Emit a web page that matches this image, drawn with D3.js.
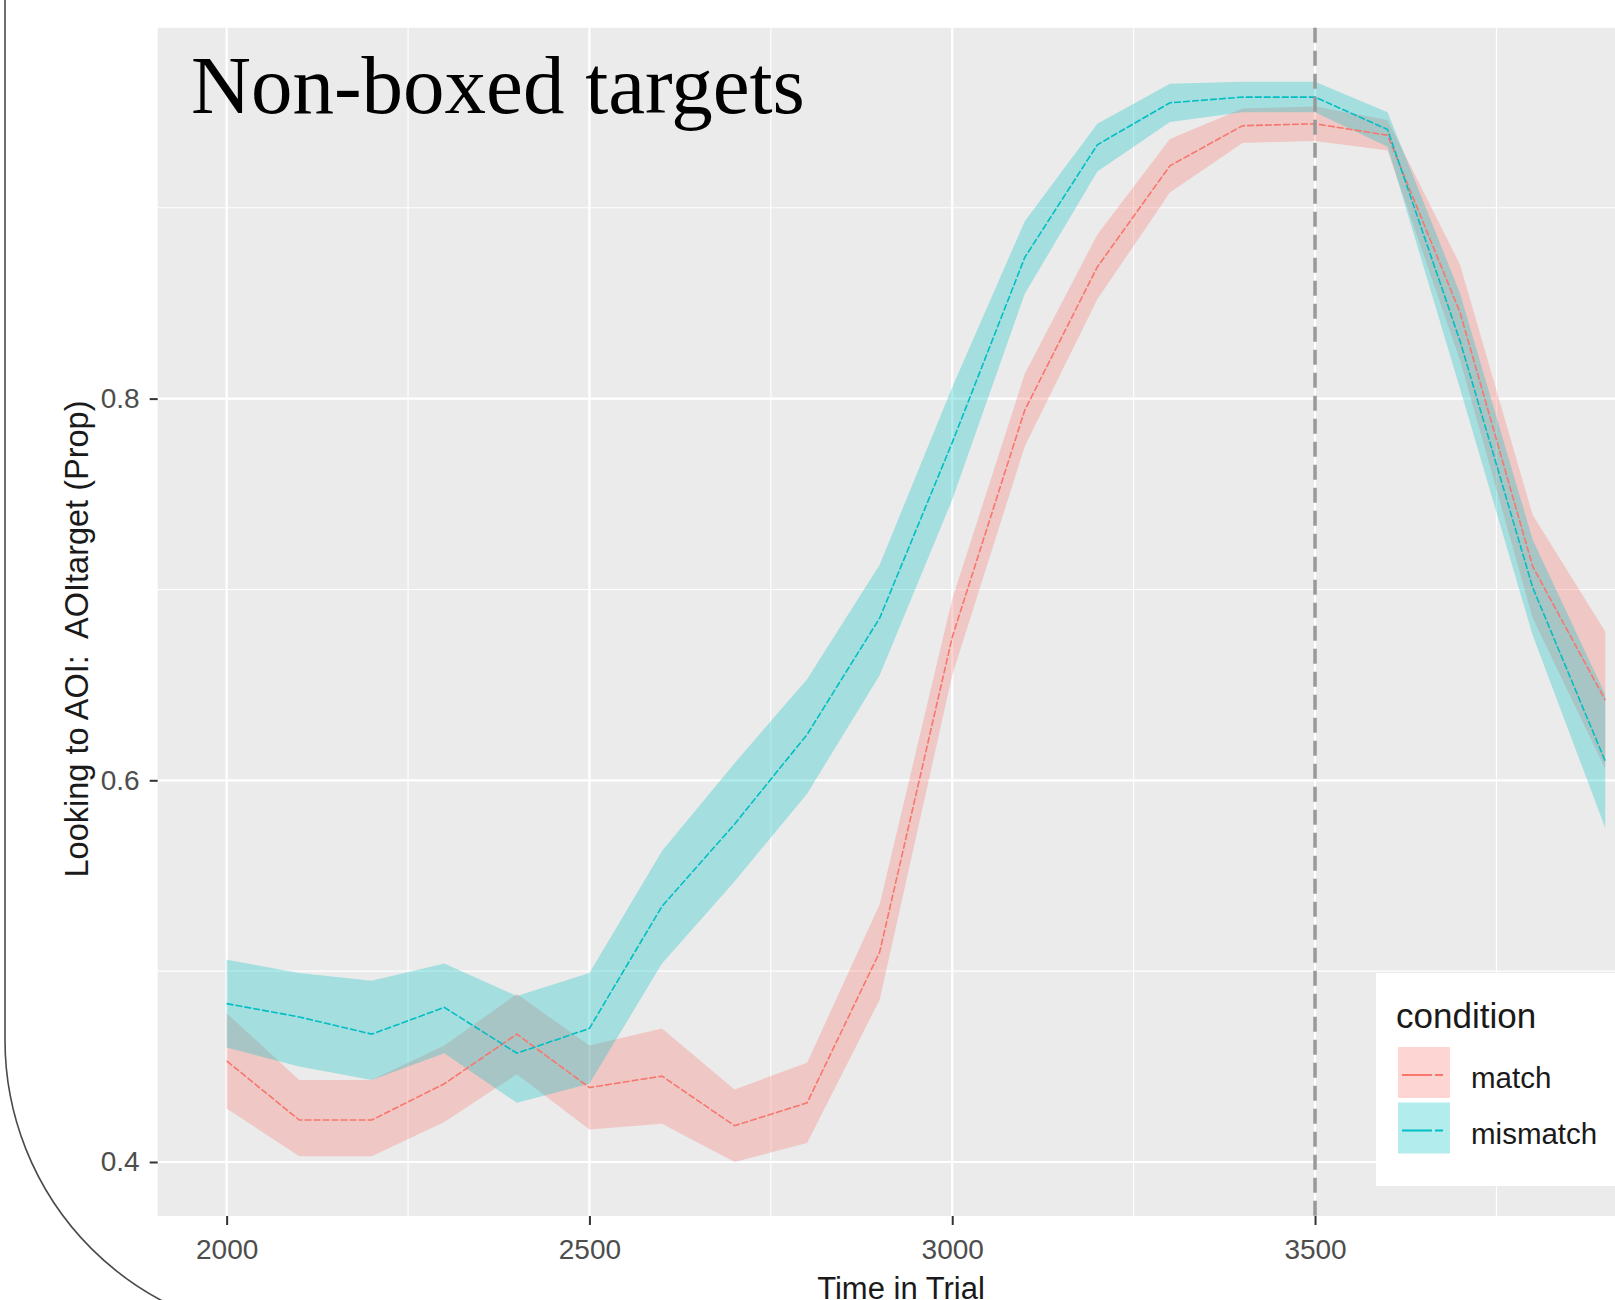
<!DOCTYPE html>
<html>
<head>
<meta charset="utf-8">
<script src="https://cdn.jsdelivr.net/npm/d3@7"></script>
<style>
  body { margin: 0; background: #ffffff; }
  svg { display: block; }
</style>
</head>
<body>
<script>
// values, one per 100 ms
var times = [2000, 2100, 2200, 2300, 2400, 2500, 2600, 2700, 2800, 2900,
             3000, 3100, 3200, 3300, 3400, 3500, 3600, 3700, 3800, 3900];

var matchMean  = [0.453, 0.422, 0.422, 0.441, 0.467, 0.439, 0.445, 0.419, 0.431, 0.510,
                  0.675, 0.794, 0.869, 0.922, 0.943, 0.944, 0.938, 0.845, 0.712, 0.642];
var matchLower = [0.428, 0.403, 0.403, 0.421, 0.446, 0.417, 0.420, 0.400, 0.410, 0.485,
                  0.655, 0.775, 0.852, 0.908, 0.934, 0.935, 0.930, 0.820, 0.685, 0.606];
var matchUpper = [0.478, 0.443, 0.443, 0.461, 0.488, 0.461, 0.470, 0.438, 0.452, 0.535,
                  0.695, 0.813, 0.886, 0.936, 0.952, 0.953, 0.946, 0.870, 0.739, 0.678];

var mismatchMean  = [0.483, 0.476, 0.467, 0.481, 0.457, 0.470, 0.534, 0.577, 0.624, 0.685,
                     0.777, 0.874, 0.933, 0.955, 0.958, 0.958, 0.941, 0.830, 0.701, 0.610];
var mismatchLower = [0.460, 0.450, 0.443, 0.457, 0.431, 0.441, 0.504, 0.547, 0.593, 0.655,
                     0.747, 0.855, 0.919, 0.945, 0.950, 0.950, 0.932, 0.805, 0.676, 0.575];
var mismatchUpper = [0.506, 0.499, 0.495, 0.504, 0.487, 0.499, 0.563, 0.609, 0.653, 0.713,
                     0.806, 0.893, 0.944, 0.965, 0.966, 0.966, 0.950, 0.855, 0.726, 0.645];

var conditions = ["match", "mismatch"];
var xTicks = [2000, 2500, 3000, 3500];
var xMinor = [2250, 2750, 3250, 3750];
var yTicks = [0.4, 0.6, 0.8];
var yMinor = [0.5, 0.7, 0.9];
var markerTime = 3500;

const width = 1615;
const height = 1300;
const panelLeft = 157.7;
const panelTop = 27.8;
const panelBottom = 1216;

const colours = { match: "#F8766D", mismatch: "#00BFC4" };

function seriesRows(mean, lower, upper) {
    return times.map((t, i) => ({ t: t, mean: mean[i], lo: lower[i], hi: upper[i] }));
}

var series = [
    { name: "match", rows: seriesRows(matchMean, matchLower, matchUpper) },
    { name: "mismatch", rows: seriesRows(mismatchMean, mismatchLower, mismatchUpper) }
];

// ggplot style 5% expansion of the data range
var tSpan = d3.max(times) - d3.min(times);
var allLo = d3.min(matchLower.concat(mismatchLower));
var allHi = d3.max(matchUpper.concat(mismatchUpper));
var vSpan = allHi - allLo;

const xScale = d3.scaleLinear()
    .domain([d3.min(times) - 0.05 * tSpan, d3.max(times) + 0.05 * tSpan])
    .range([panelLeft, panelLeft + 1516.5]);

const yScale = d3.scaleLinear()
    .domain([allLo - 0.05 * vSpan, allHi + 0.05 * vSpan])
    .range([panelBottom, panelTop]);

let svg = d3.select("body")
    .append("svg")
    .attr("width", width)
    .attr("height", height);

// panel
svg.append("rect")
    .attr("x", panelLeft)
    .attr("y", panelTop)
    .attr("width", xScale.range()[1] - panelLeft)
    .attr("height", panelBottom - panelTop)
    .attr("fill", "#EBEBEB");

let grid = svg.append("g");
grid.selectAll(".vminor").data(xMinor).enter().append("line")
    .attr("x1", d => xScale(d)).attr("x2", d => xScale(d))
    .attr("y1", panelTop).attr("y2", panelBottom)
    .attr("stroke", "#fff").attr("stroke-width", 1.1);
grid.selectAll(".hminor").data(yMinor).enter().append("line")
    .attr("x1", panelLeft).attr("x2", width)
    .attr("y1", d => yScale(d)).attr("y2", d => yScale(d))
    .attr("stroke", "#fff").attr("stroke-width", 1.1);
grid.selectAll(".vmajor").data(xTicks).enter().append("line")
    .attr("x1", d => xScale(d)).attr("x2", d => xScale(d))
    .attr("y1", panelTop).attr("y2", panelBottom)
    .attr("stroke", "#fff").attr("stroke-width", 2.2);
grid.selectAll(".hmajor").data(yTicks).enter().append("line")
    .attr("x1", panelLeft).attr("x2", width)
    .attr("y1", d => yScale(d)).attr("y2", d => yScale(d))
    .attr("stroke", "#fff").attr("stroke-width", 2.2);

// ribbons then lines
const area = d3.area()
    .x(d => xScale(d.t))
    .y0(d => yScale(d.lo))
    .y1(d => yScale(d.hi));

const line = d3.line()
    .x(d => xScale(d.t))
    .y(d => yScale(d.mean));

svg.append("g").selectAll("path")
    .data(series)
    .enter()
    .append("path")
        .attr("d", d => area(d.rows))
        .attr("fill", d => colours[d.name])
        .attr("fill-opacity", 0.3);

svg.append("g").selectAll("path")
    .data(series)
    .enter()
    .append("path")
        .attr("d", d => line(d.rows))
        .attr("fill", "none")
        .attr("stroke", d => colours[d.name])
        .attr("stroke-width", 1.6)
        .attr("stroke-dasharray", "7,2");

// dashed marker line
svg.append("line")
    .attr("x1", xScale(markerTime)).attr("x2", xScale(markerTime))
    .attr("y1", panelTop).attr("y2", panelBottom)
    .attr("stroke", "#999999")
    .attr("stroke-width", 3.5)
    .attr("stroke-dasharray", "15,8");

// axes
let yAxis = svg.append("g")
    .attr("transform", `translate(${panelLeft}, 0)`)
    .call(d3.axisLeft(yScale).tickValues(yTicks).tickFormat(d3.format(".1f")).tickSize(8).tickPadding(10));

let xAxis = svg.append("g")
    .attr("transform", `translate(0, ${panelBottom})`)
    .call(d3.axisBottom(xScale).tickValues(xTicks).tickFormat(d3.format("d")).tickSize(9).tickPadding(14));

[xAxis, yAxis].forEach(ax => {
    ax.select(".domain").remove();
    ax.selectAll(".tick line").attr("stroke", "#333333").attr("stroke-width", 2);
    ax.selectAll(".tick text")
        .attr("fill", "#4D4D4D")
        .style("font-family", "'Liberation Sans', Arial, sans-serif")
        .style("font-size", "28px");
});

// axis titles
svg.append("text")
    .attr("x", 901)
    .attr("y", 1299)
    .attr("text-anchor", "middle")
    .style("font-family", "'Liberation Sans', Arial, sans-serif")
    .style("font-size", "31px")
    .attr("fill", "#1a1a1a")
    .text("Time in Trial");

svg.append("text")
    .attr("transform", "translate(88, 639) rotate(-90)")
    .attr("text-anchor", "middle")
    .style("font-family", "'Liberation Sans', Arial, sans-serif")
    .style("font-size", "32.5px")
    .style("white-space", "pre")
    .attr("fill", "#1a1a1a")
    .text("Looking to AOI:  AOItarget (Prop)");

// title
svg.append("text")
    .attr("x", 191)
    .attr("y", 112.7)
    .style("font-family", "'Liberation Serif', 'Times New Roman', serif")
    .style("font-size", "83px")
    .attr("fill", "#000")
    .text("Non-boxed targets");

// legend
let legend = svg.append("g");
legend.append("rect")
    .attr("x", 1376).attr("y", 973)
    .attr("width", width - 1376 + 5).attr("height", 213)
    .attr("fill", "#fff");
legend.append("text")
    .attr("x", 1396).attr("y", 1028)
    .style("font-family", "'Liberation Sans', Arial, sans-serif")
    .style("font-size", "35px")
    .attr("fill", "#1a1a1a")
    .text("condition");

let keys = legend.selectAll(".key")
    .data(conditions)
    .enter()
    .append("g")
        .attr("transform", (d, i) => `translate(1398, ${1047 + i * 55.5})`);
keys.append("rect")
    .attr("width", 52).attr("height", 51)
    .attr("fill", d => colours[d])
    .attr("fill-opacity", 0.3);
keys.append("line")
    .attr("x1", 4).attr("x2", 48)
    .attr("y1", 28).attr("y2", 28)
    .attr("stroke", d => colours[d])
    .attr("stroke-width", 1.8)
    .attr("stroke-dasharray", "30,3,8,3");
keys.append("text")
    .attr("x", 73).attr("y", 41)
    .style("font-family", "'Liberation Sans', Arial, sans-serif")
    .style("font-size", "29.5px")
    .attr("fill", "#1a1a1a")
    .text(d => d);

// slide frame on the left
svg.append("path")
    .attr("d", "M5,0 L5,1040 A295,295 0 0 0 300,1335")
    .attr("fill", "none")
    .attr("stroke", "#4a4a4a")
    .attr("stroke-width", 1.6);
</script>
</body>
</html>
